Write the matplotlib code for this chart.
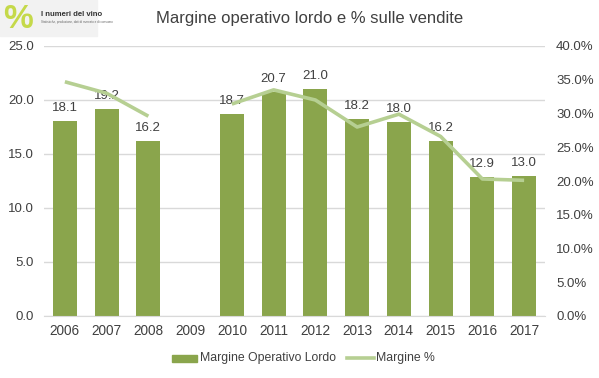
import numpy as np
import matplotlib.pyplot as plt
from matplotlib.ticker import FuncFormatter

anni = ['2006', '2007', '2008', '2009', '2010', '2011', '2012',
        '2013', '2014', '2015', '2016', '2017']
mol = [18.1, 19.2, 16.2, np.nan, 18.7, 20.7, 21.0, 18.2, 18.0, 16.2, 12.9, 13.0]
margine_pct = [34.7, 33.0, 29.6, np.nan, 31.4, 33.5, 32.0, 28.0, 29.9, 26.6, 20.3, 20.1]

col_bar = '#8aa54c'
col_line = '#b6cf92'
col_txt = '#404040'
font = ['Liberation Sans', 'DejaVu Sans']

W, H = 599, 378
fig = plt.figure(figsize=(W / 100, H / 100), dpi=100)
# area del grafico in pixel: x 44..545, y 46..316
ax = fig.add_axes([44 / W, 1 - 316 / H, 501 / W, 270 / H])
ax2 = ax.twinx()

x = np.arange(len(anni))
vals = np.nan_to_num(mol)
ax.bar(x, vals, width=0.575, color=col_bar, zorder=2)
for xi, v in zip(x, mol):
    if not np.isnan(v):
        ax.annotate(f'{v:.1f}', (xi, v), xytext=(0, 5), textcoords='offset points',
                    ha='center', va='bottom', fontsize=9.5, color=col_txt,
                    family=font, zorder=5)

ax2.plot(x, margine_pct, color=col_line, lw=2.6, solid_capstyle='butt', zorder=3)

ax.set_xlim(-0.5, len(anni) - 0.5)
ax.set_ylim(0, 25)
ax.set_yticks(np.arange(0, 25.1, 5))
ax.yaxis.set_major_formatter(FuncFormatter(lambda v, p: f'{v:.1f}'))
ax2.set_ylim(0, 40)
ax2.set_yticks(np.arange(0, 40.1, 5))
ax2.yaxis.set_major_formatter(FuncFormatter(lambda v, p: f'{v:.1f}%'))

ax.grid(axis='y', color='#d9d9d9', lw=1, zorder=0)
ax.set_axisbelow(True)
for a in (ax, ax2):
    for s in a.spines.values():
        s.set_visible(False)
ax.spines['bottom'].set_visible(True)
ax.spines['bottom'].set_color('#d9d9d9')
ax.set_xticks(x)
ax.set_xticklabels(anni, family=font, fontsize=9.8, color=col_txt)
ax.tick_params(axis='x', length=0, pad=6)
ax.tick_params(axis='y', length=0, pad=7, labelsize=9.5, labelcolor=col_txt)
ax2.tick_params(axis='y', length=0, pad=8, labelsize=9.5, labelcolor=col_txt)
for lab in ax.get_yticklabels() + ax2.get_yticklabels():
    lab.set_family(font)

fig.text(310 / W, 1 - 18 / H, 'Margine operativo lordo e % sulle vendite', ha='center',
         va='center', fontsize=12, color=col_txt, family=font)

# logo
fig.patches.append(plt.Rectangle((0, 1 - 36 / H), 97 / W, 36 / H,
                                 transform=fig.transFigure, color='#f2f2f2', zorder=0))
fig.text(3 / W, 1 - 19 / H, '%', ha='left', va='center', fontsize=24, color='#c5d94a',
         fontweight='bold', family=font)
fig.text(41 / W, 1 - 14 / H, 'I numeri del vino', ha='left', va='center', fontsize=5.6,
         color='#333333', family=font, fontweight='bold')
fig.text(41 / W, 1 - 22 / H, 'Statistiche, produzione, dati di mercato e di consumo',
         ha='left', va='center', fontsize=2.2, color='#666666', family=font)

# legenda
fig.patches.append(plt.Rectangle((172 / W, 1 - 361.5 / H), 25 / W, 7 / H,
                                 transform=fig.transFigure, color=col_bar))
fig.text(200 / W, 1 - 358 / H, 'Margine Operativo Lordo', ha='left', va='center',
         fontsize=8.8, color=col_txt, family=font)
fig.lines.append(plt.Line2D([347 / W, 374 / W], [1 - 358 / H] * 2,
                            transform=fig.transFigure, color=col_line, lw=2.6))
fig.text(376 / W, 1 - 358 / H, 'Margine %', ha='left', va='center',
         fontsize=8.8, color=col_txt, family=font)

fig.savefig('out.png', dpi=100)
